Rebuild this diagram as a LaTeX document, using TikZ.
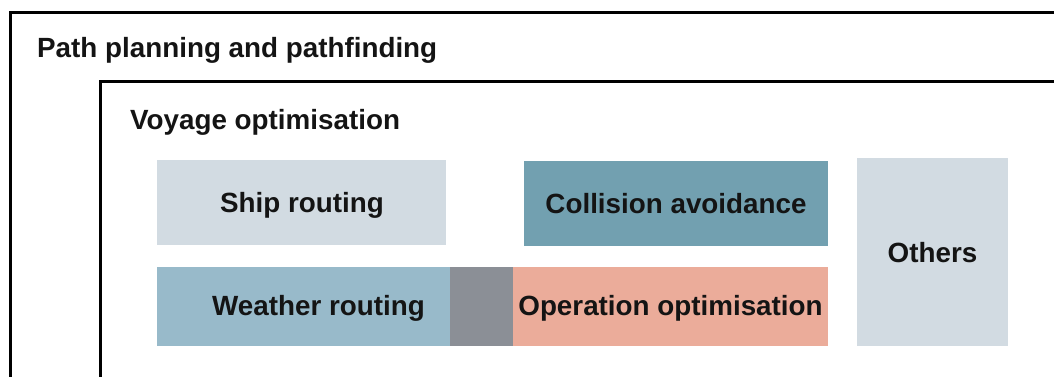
\documentclass[tikz,border=0pt]{standalone}
\usepackage{fontspec}
\setmainfont{Liberation Sans}
\definecolor{paleblue}{HTML}{D2DBE2}
\definecolor{tealblue}{HTML}{72A0B0}
\definecolor{skyblue}{HTML}{98BACA}
\definecolor{slategray}{HTML}{8B8F96}
\definecolor{salmon}{HTML}{EBAC9A}
\tikzset{
  frame/.style={draw=black, line width=3pt},
  area/.style={draw=none, anchor=north west, inner sep=0pt, outer sep=0pt},
  lbl/.style={font=\fontsize{27.8}{32}\selectfont\bfseries, inner sep=0pt,
    text=black!92, text height=20pt, text depth=0pt}
}
\begin{document}
\begin{tikzpicture}[x=1pt, y=-1pt]
  \useasboundingbox (0,0) rectangle (1054,376);
  \clip (0,0) rectangle (1054,376);
  % nested scope frames, open to the right and bottom
  \draw[frame] (10,12) rectangle (1070,400);
  \draw[frame] (100,81) rectangle (1070,400);
  \node[lbl, anchor=west] (title) at (37,47) {Path planning and pathfinding};
  \node[lbl, anchor=west] (voyage) at (130,119) {Voyage optimisation};
  % topic areas
  \node[area, fill=paleblue, minimum width=289pt, minimum height=85pt] (ship) at (157,160) {};
  \node[area, fill=tealblue, minimum width=304pt, minimum height=85pt] (coll) at (524,161) {};
  \node[area, fill=skyblue, minimum width=293pt, minimum height=79pt] (weather) at (157,267) {};
  \node[area, fill=slategray, minimum width=63pt, minimum height=79pt] (overlap) at (450,267) {};
  \node[area, fill=salmon, minimum width=315pt, minimum height=79pt] (oper) at (513,267) {};
  \node[area, fill=paleblue, minimum width=151pt, minimum height=188pt] (others) at (857,158) {};
  % labels
  \node[lbl] (shipL) at (302,202) {Ship routing};
  \node[lbl] (collL) at (coll.center) {Collision avoidance};
  \node[lbl] (weatherL) at (318.5,305.5) {Weather routing};
  \node[lbl] (operL) at (670.5,305.5) {Operation optimisation};
  \node[lbl] (othersL) at (others.center) {Others};
\end{tikzpicture}
\end{document}
